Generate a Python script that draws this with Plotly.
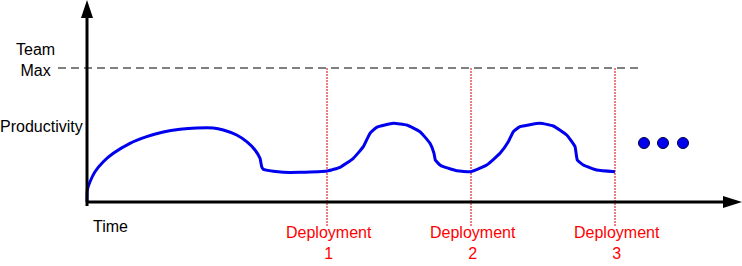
import plotly.graph_objects as go

# Productivity curve (time, productivity) in chart units; origin at axis corner
time = [0, 0.3, 3, 8, 16.3, 26.3, 43, 59.7, 76.3, 93, 109.7, 126.3, 136.3, 149.7, 159.7,
        168, 173, 174.7, 176.3, 186.3, 196.3, 213, 240.3, 253, 266.3, 276.3, 283, 289.7,
        306.3, 319.7, 333, 343, 347, 348.3, 353, 356.3, 369.7, 384, 399.7, 413, 421.3,
        426.3, 433, 453, 466.3, 479.7, 488, 490.3, 496.3, 509.7, 528]
productivity = [0, 12, 20.3, 30.3, 40.3, 48.7, 58.7, 65.3, 70, 72.7, 74, 74, 72, 67, 60.3,
                52, 43.7, 35.3, 32.7, 30.7, 29.7, 29.7, 31, 34.7, 43.7, 55.3, 68.7, 74.7,
                78.7, 77, 70.3, 58.7, 48.7, 42, 37, 35.3, 31.3, 30.3, 37, 48.7, 60.3,
                70.3, 75.3, 78.7, 76, 67, 55.3, 42, 37, 32, 30.3]

team_max = 134
deployments = [240, 384, 528]
deployment_labels = ["Deployment<br>1", "Deployment<br>2", "Deployment<br>3"]
dots_time = [557, 576, 596]
dots_prod = [59, 59, 59]

fig = go.Figure()

# Team max dashed line
fig.add_trace(go.Scatter(x=[-29, 553], y=[team_max, team_max], mode="lines",
                         line=dict(color="#808080", width=2, dash="8px,5px"),
                         hoverinfo="skip"))
# Deployment lines
for d in deployments:
    fig.add_trace(go.Scatter(x=[d, d], y=[team_max, -25], mode="lines",
                             line=dict(color="#d40000", width=1, dash="2px,1px"),
                             hoverinfo="skip"))
# Curve
fig.add_trace(go.Scatter(x=time, y=productivity, mode="lines",
                         line=dict(color="#0000ee", width=3, shape="spline", smoothing=0.4),
                         hoverinfo="skip"))
# Dots
fig.add_trace(go.Scatter(x=dots_time, y=dots_prod, mode="markers",
                         marker=dict(color="#0000ee", size=11, line=dict(color="#000040", width=1)),
                         hoverinfo="skip"))

shapes = [
    # y axis
    dict(type="line", x0=0, x1=0, y0=-4, y1=184, line=dict(color="black", width=3)),
    dict(type="path", path="M -6 184 L 6 184 L 0 202 Z", fillcolor="black", line=dict(width=0)),
    # x axis
    dict(type="line", x0=0, x1=636, y0=0, y1=0, line=dict(color="black", width=3)),
    dict(type="path", path="M 636 -6 L 636 6 L 655 0 Z", fillcolor="black", line=dict(width=0)),
]

font = dict(family="Liberation Sans, Arial, sans-serif", size=16, color="black")
red_font = dict(family="Liberation Sans, Arial, sans-serif", size=16, color="#ff0000")
annotations = [
    dict(x=-52, y=142, text="Team<br>Max", showarrow=False, font=font, xanchor="center", yanchor="middle"),
    dict(x=-46, y=76, text="Productivity", showarrow=False, font=font, xanchor="center", yanchor="middle"),
    dict(x=23, y=-24, text="Time", showarrow=False, font=font, xanchor="center", yanchor="middle"),
]
for d, lab in zip(deployments, deployment_labels):
    annotations.append(dict(x=d + 2, y=-41, text=lab, showarrow=False, font=red_font,
                            xanchor="center", yanchor="middle"))

fig.update_layout(
    width=742, height=266, margin=dict(l=0, r=0, t=0, b=0),
    paper_bgcolor="white", plot_bgcolor="white", showlegend=False,
    xaxis=dict(range=[-87, 655], visible=False, fixedrange=True),
    yaxis=dict(range=[-64, 202], visible=False, fixedrange=True),
    shapes=shapes, annotations=annotations,
)

fig.write_html("out.html")
